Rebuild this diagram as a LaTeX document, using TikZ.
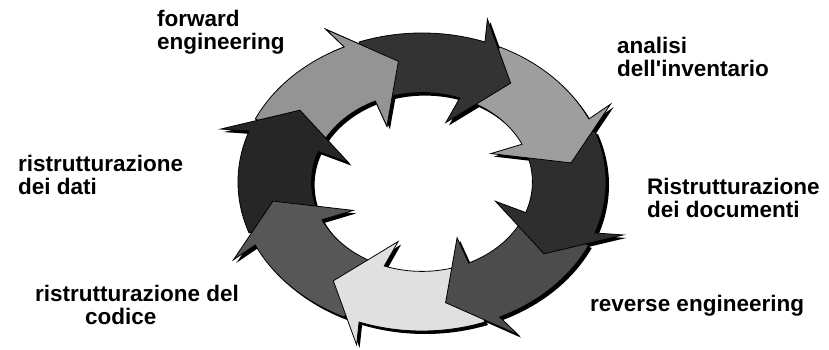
\documentclass[tikz,border=0pt]{standalone}
\usepackage{fontspec}
\setmainfont{Liberation Sans}

% one curved arrow of the ring: tail angle, angle of the head's back edge
\newcommand{\ringpiece}[2]{(#1:1) arc[start angle=#1, end angle=#2, radius=1]
  -- ({#2+2}:1.15) -- ({#2-16}:0.82) -- ({#2+2}:0.42) -- (#2:0.6)
  arc[start angle=#2, end angle=#1, radius=0.6] -- cycle}

\begin{document}
\begin{tikzpicture}[x=1pt,y=1pt,
    lbl/.style={font=\fontsize{22.5}{23}\selectfont\bfseries, align=left, inner sep=0pt, anchor=base west}]
  \useasboundingbox (0,0) rectangle (829,350);

  \begin{scope}[shift={(422,168)}, x=184pt, y=149pt, line width=0.8pt, line join=miter]
    % shadow
    \begin{scope}[shift={(3pt,-3pt)}]
      \foreach \a/\b in {-205/-245, -160/-200, -115/-155, -70/-110, -25/-65, 20/-20, 65/25, 110/70}
        \fill[black] \ringpiece{\a}{\b};
    \end{scope}
    % arrows, each head over the next tail
    \foreach \a/\b/\c in {-205/-245/black!42, -160/-200/black!85, -115/-155/black!66,
        -70/-110/black!12, -25/-65/black!70, 20/-20/black!82, 65/25/black!38, 110/70/black!80}
      \draw[fill=\c] \ringpiece{\a}{\b};
    % head of the last arrow back on top
    \begin{scope}
      \clip (0,0) -- (-241:2) -- (-255:2) -- (-270:2) -- cycle;
      \draw[fill=black!42] \ringpiece{-205}{-245};
    \end{scope}
  \end{scope}

  % labels: base = baseline of the last line
  \node[lbl] (fwd) at (157,300) {forward\\engineering};
  \node[lbl] (inv) at (617,273) {analisi\\dell\textquotesingle inventario};
  \node[lbl] (doc) at (647,132) {Ristrutturazione\\dei documenti};
  \node[lbl] (rev) at (590,38) {reverse engineering};
  \node[lbl] (cod) at (35,25) {ristrutturazione del\\\hspace*{50pt}codice};
  \node[lbl] (dat) at (18,155) {ristrutturazione\\dei dati};
\end{tikzpicture}
\end{document}
